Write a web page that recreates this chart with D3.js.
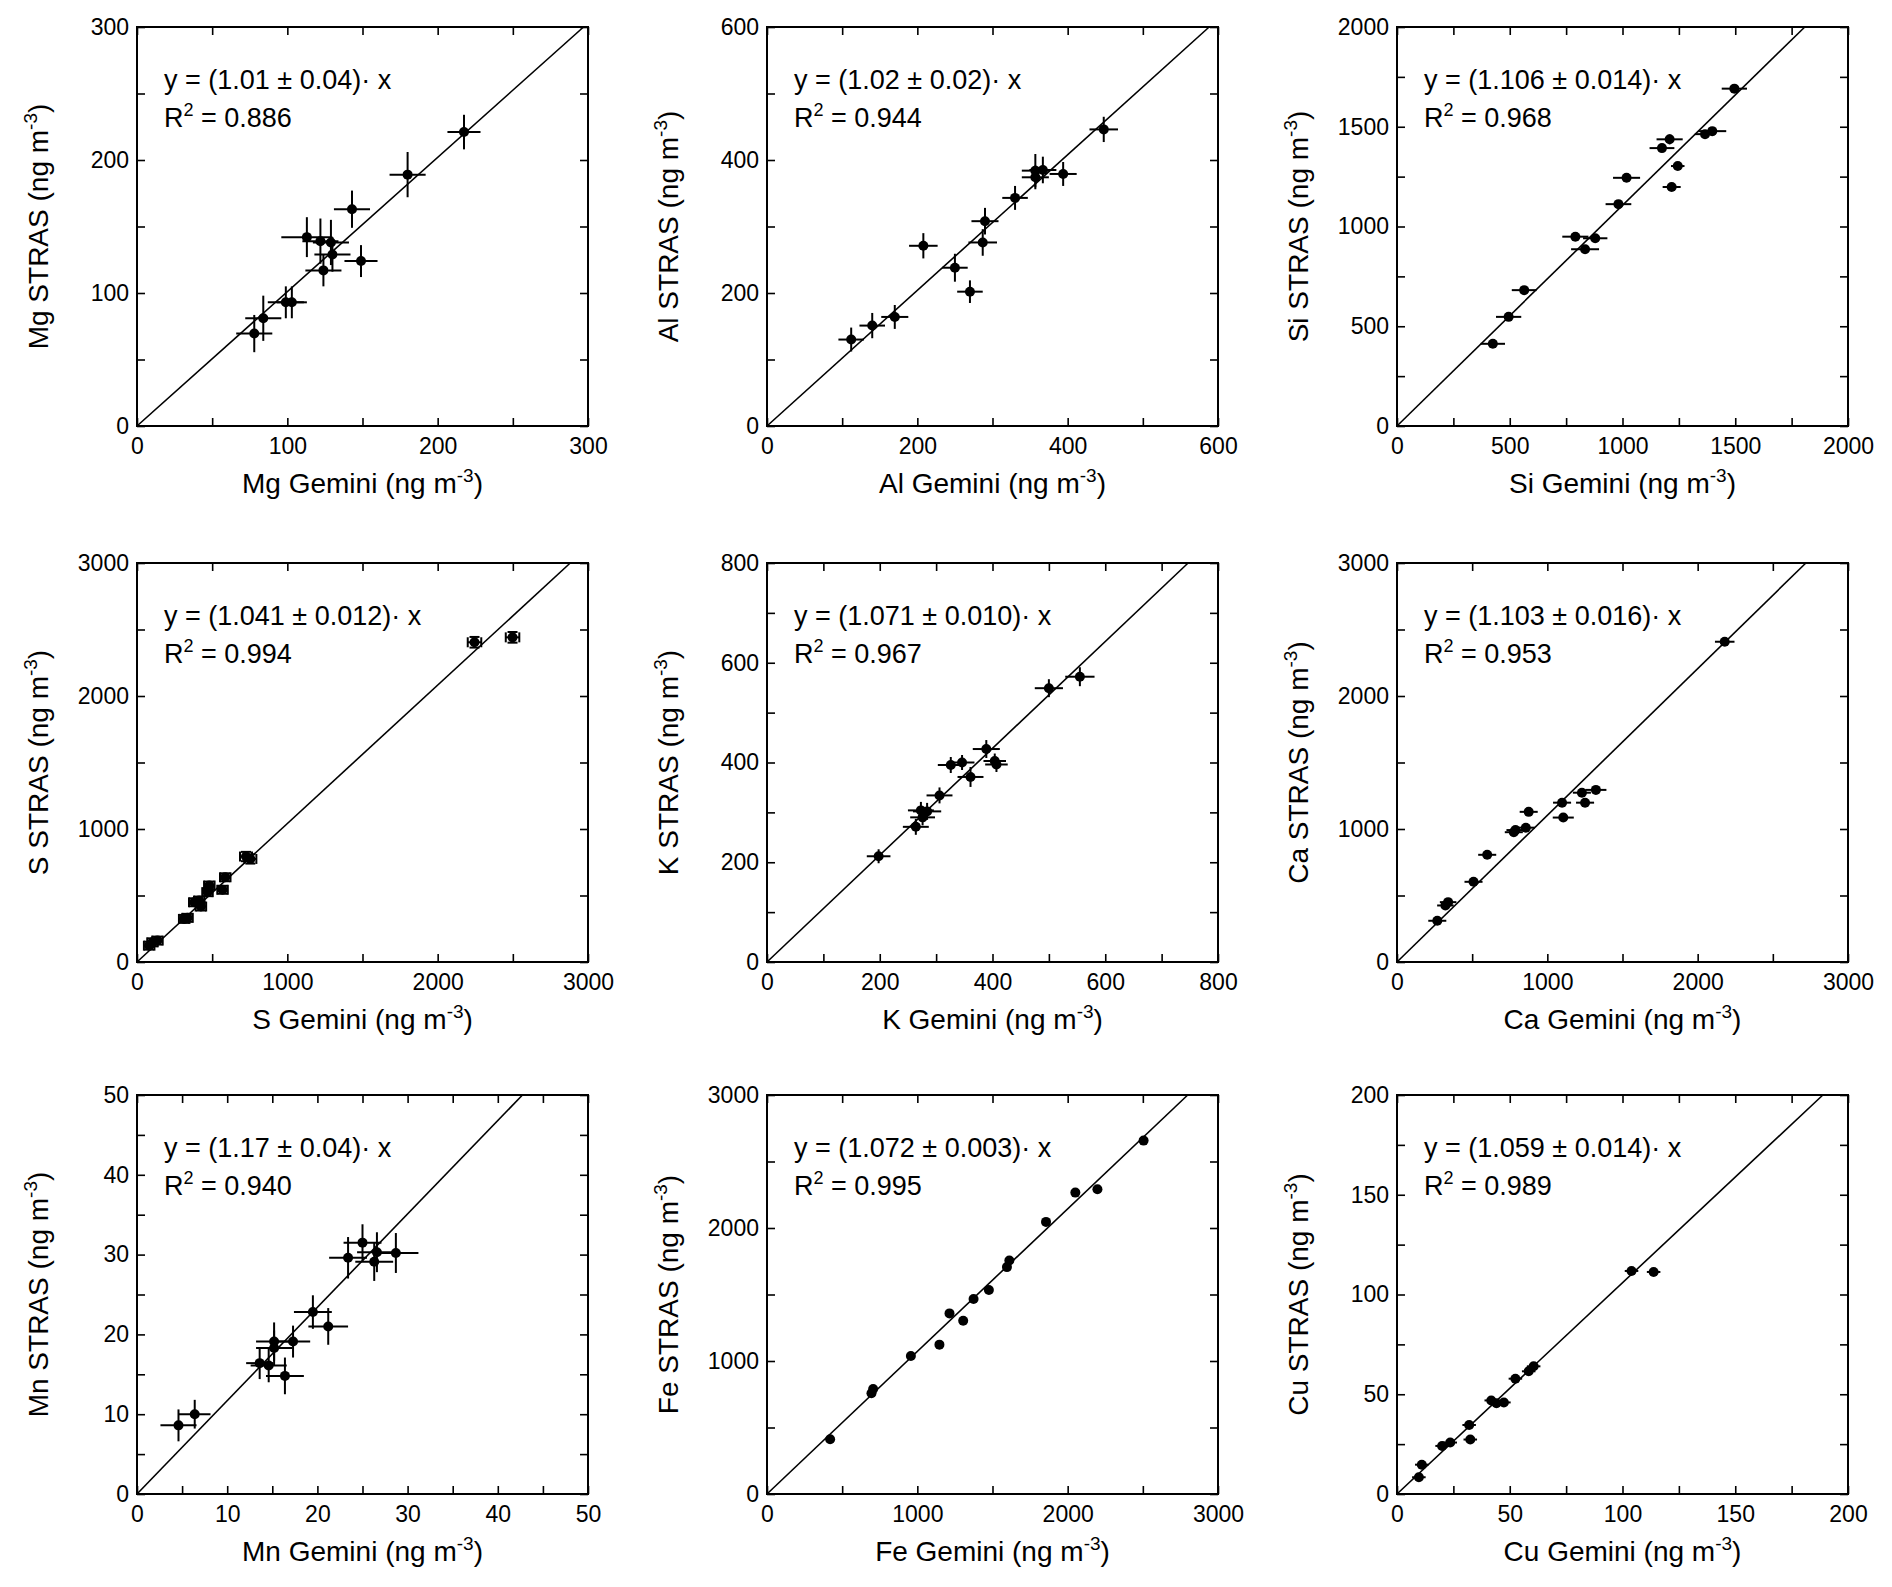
<!DOCTYPE html>
<html>
<head>
<meta charset="utf-8">
<script src="https://cdn.jsdelivr.net/npm/d3@7"></script>
<style>
  body { margin: 0; background: #fff; }
  svg { display: block; }
  text { font-family: "Liberation Sans", Arial, Helvetica, sans-serif; fill: #000; }
</style>
</head>
<body>
<div id="chart"></div>
<script>
/* ========================================================================
 * Gemini vs STRAS element comparison, 3x3 scatter grid
 * ======================================================================== */

// --- values (ng m-3) ---
var mgGemini    = [217.5, 180, 143, 113, 122, 129, 130, 124, 149, 99, 103, 84, 78];
var mgStras     = [221, 189, 163, 142, 139, 138, 129, 117, 124, 93, 93, 81, 69.5];
var mgGeminiErr = [11, 12, 12, 17, 12, 12, 12, 12, 11, 12, 10, 12, 12];
var mgStrasErr  = [13, 17, 14, 15, 17, 17, 13, 12, 12, 12, 12, 17, 14];

var alGemini    = [448, 357, 367, 357, 394, 330, 290, 287, 208, 250, 270, 170, 140, 112];
var alStras     = [446, 384, 385, 374, 379, 343, 308, 276, 271, 238, 202, 164, 151, 130];
var alGeminiErr = [19, 18, 18, 18, 18, 17, 18, 19, 19, 17, 17, 18, 17, 17];
var alStrasErr  = [19, 25, 20, 18, 18, 18, 20, 20, 19, 21, 17, 18, 19, 18];

var siGemini    = [1496, 1398, 1366, 1209, 1175, 1245, 1218, 1018, 982, 791, 879, 834, 564, 495, 425];
var siStras     = [1691, 1478, 1463, 1437, 1393, 1303, 1198, 1244, 1112, 949, 941, 886, 681, 547, 412];
var siGeminiErr = [56, 62, 45, 58, 55, 30, 40, 60, 57, 58, 54, 62, 55, 56, 54];
var siStrasErr  = [20, 20, 20, 25, 20, 20, 18, 20, 18, 18, 18, 18, 18, 18, 18];

var sGemini     = [2245, 2498, 725, 754, 587, 569, 481, 469, 414, 425, 381, 336, 314, 103, 81, 136];
var sStras      = [2404, 2441, 793, 775, 637, 543, 575, 525, 462, 417, 449, 332, 324, 148, 123, 161];
var sGeminiErr  = [45, 45, 40, 40, 35, 35, 35, 35, 35, 35, 35, 35, 35, 35, 35, 35];
var sStrasErr   = [40, 40, 35, 35, 30, 30, 30, 30, 30, 30, 30, 30, 30, 30, 30, 30];

var kGemini     = [555, 500, 389, 404, 407, 346, 326, 361, 306, 273, 284, 276, 264, 198];
var kStras      = [572, 549, 427, 403, 396, 400, 395, 371, 334, 304, 302, 290, 271, 212];
var kGeminiErr  = [26, 25, 24, 20, 20, 22, 23, 23, 23, 23, 25, 22, 23, 21];
var kStrasErr   = [19, 18, 18, 15, 15, 15, 16, 20, 16, 17, 17, 16, 16, 14];

var caGemini    = [2180, 1323, 1230, 1251, 1098, 1106, 876, 857, 788, 777, 600, 509, 340, 322, 268];
var caStras     = [2408, 1294, 1273, 1198, 1198, 1086, 1129, 1010, 992, 976, 806, 603, 450, 425, 310];
var caGeminiErr = [65, 70, 60, 60, 60, 70, 60, 60, 60, 60, 60, 60, 55, 55, 60];
var caStrasErr  = [25, 25, 25, 25, 25, 25, 25, 25, 25, 25, 25, 25, 25, 25, 25];

var mnGemini    = [25.0, 23.4, 26.6, 26.3, 28.7, 19.5, 21.2, 15.2, 15.2, 17.3, 13.6, 14.6, 16.4, 6.4, 4.6];
var mnStras     = [31.5, 29.6, 30.3, 29.1, 30.2, 22.8, 21.0, 19.1, 18.3, 19.1, 16.4, 16.1, 14.8, 10.0, 8.6];
var mnGeminiErr = [2.1, 2.1, 2.2, 2.1, 2.5, 2.1, 2.2, 2.0, 2.0, 1.9, 1.5, 2.0, 2.1, 1.75, 2.0];
var mnStrasErr  = [2.3, 2.6, 2.5, 2.4, 2.5, 2.1, 2.3, 2.4, 2.2, 2.0, 2.0, 2.1, 2.3, 1.8, 2.0];

var feGemini    = [2505, 2198, 2051, 1856, 1612, 1596, 1476, 1374, 1214, 1305, 1147, 957, 706, 695, 420];
var feStras     = [2657, 2291, 2266, 2046, 1756, 1706, 1534, 1466, 1358, 1302, 1123, 1037, 790, 757, 411];
var feGeminiErr = [12, 12, 12, 12, 12, 12, 12, 12, 12, 12, 12, 12, 12, 12, 12];
var feStrasErr  = [12, 12, 12, 12, 12, 12, 12, 12, 12, 12, 12, 12, 12, 12, 12];

var cuGemini    = [104, 113.8, 60.6, 58.4, 52.5, 41.8, 44.1, 47.4, 32, 32.5, 23.6, 20, 11, 9.7];
var cuStras     = [111.8, 111.3, 64, 61.5, 57.8, 46.9, 45.5, 45.9, 34.6, 27.3, 25.8, 24.1, 14.7, 8.4];
var cuGeminiErr = [3, 3, 3, 3, 3, 3, 3, 3, 3, 3, 3, 3, 3, 3];
var cuStrasErr  = [1.5, 1.5, 1.5, 1.5, 1.5, 1.5, 1.5, 1.5, 1.5, 1.5, 1.5, 1.5, 1.5, 1.5];

// element, axis max, major step, minor step, slope, slope text, R2 text
var elements   = ['Mg', 'Al', 'Si', 'S', 'K', 'Ca', 'Mn', 'Fe', 'Cu'];
var axisMax    = [300, 600, 2000, 3000, 800, 3000, 50, 3000, 200];
var majorStep  = [100, 200, 500, 1000, 200, 1000, 10, 1000, 50];
var minorStep  = [50, 100, 250, 500, 100, 500, 5, 500, 25];
var slopes     = [1.01, 1.02, 1.106, 1.041, 1.071, 1.103, 1.17, 1.072, 1.059];
var slopeText  = ['1.01 \u00b1 0.04', '1.02 \u00b1 0.02', '1.106 \u00b1 0.014', '1.041 \u00b1 0.012',
                  '1.071 \u00b1 0.010', '1.103 \u00b1 0.016', '1.17 \u00b1 0.04', '1.072 \u00b1 0.003',
                  '1.059 \u00b1 0.014'];
var r2Text     = ['0.886', '0.944', '0.968', '0.994', '0.967', '0.953', '0.940', '0.995', '0.989'];

var geminiVals = [mgGemini, alGemini, siGemini, sGemini, kGemini, caGemini, mnGemini, feGemini, cuGemini];
var strasVals  = [mgStras, alStras, siStras, sStras, kStras, caStras, mnStras, feStras, cuStras];
var geminiErrs = [mgGeminiErr, alGeminiErr, siGeminiErr, sGeminiErr, kGeminiErr, caGeminiErr, mnGeminiErr, feGeminiErr, cuGeminiErr];
var strasErrs  = [mgStrasErr, alStrasErr, siStrasErr, sStrasErr, kStrasErr, caStrasErr, mnStrasErr, feStrasErr, cuStrasErr];

// --- layout ---
var W = 1892, H = 1587;
var colLeft = [137, 767, 1397];
var rowTop = [27, 563, 1095];
var pw = 451, ph = 399;
var tickLen = 8;

var svg = d3.select('#chart').append('svg')
  .attr('width', W).attr('height', H);
svg.append('rect').attr('width', W).attr('height', H).attr('fill', '#fff');

elements.forEach(function(el, i) {
  var left = colLeft[i % 3], top = rowTop[Math.floor(i / 3)];
  var max = axisMax[i];

  var x = d3.scaleLinear().domain([0, max]).range([0, pw]);
  var y = d3.scaleLinear().domain([0, max]).range([ph, 0]);

  var major = d3.range(0, max + majorStep[i] / 2, majorStep[i]);
  var all = d3.range(0, max + minorStep[i] / 2, minorStep[i]);
  var isMajor = function(v) { return major.some(function(m) { return Math.abs(m - v) < 1e-9; }); };
  var fmt = function(v) { return isMajor(v) ? d3.format('d')(v) : ''; };

  var g = svg.append('g').attr('transform', 'translate(' + left + ',' + top + ')');

  // axes, ticks pointing inward on all four sides
  function style(sel) {
    sel.select('.domain').remove();
    sel.selectAll('.tick line').attr('stroke', '#000').attr('stroke-width', 1.6);
    sel.selectAll('.tick text').attr('font-size', 23).attr('fill', '#000')
      .attr('font-family', '"Liberation Sans", Arial, Helvetica, sans-serif');
  }
  g.append('g').attr('transform', 'translate(0,' + ph + ')')
    .call(d3.axisBottom(x).tickValues(all).tickFormat(fmt).tickSizeInner(-tickLen).tickSizeOuter(0).tickPadding(12))
    .call(style);
  g.append('g')
    .call(d3.axisLeft(y).tickValues(all).tickFormat(fmt).tickSizeInner(-tickLen).tickSizeOuter(0).tickPadding(8))
    .call(style);
  g.append('g')
    .call(d3.axisTop(x).tickValues(all).tickFormat('').tickSizeInner(-tickLen).tickSizeOuter(0))
    .call(style);
  g.append('g').attr('transform', 'translate(' + pw + ',0)')
    .call(d3.axisRight(y).tickValues(all).tickFormat('').tickSizeInner(-tickLen).tickSizeOuter(0))
    .call(style);

  g.append('rect').attr('width', pw).attr('height', ph)
    .attr('fill', 'none').attr('stroke', '#000').attr('stroke-width', 2);

  // fit line y = a*x, cut at the frame
  var xEnd = Math.min(max, max / slopes[i]);
  g.append('path')
    .datum([[0, 0], [xEnd, slopes[i] * xEnd]])
    .attr('d', d3.line().x(function(d) { return x(d[0]); }).y(function(d) { return y(d[1]); }))
    .attr('fill', 'none').attr('stroke', '#000').attr('stroke-width', 1.6);

  var pts = geminiVals[i].map(function(v, j) {
    return { gx: v, sy: strasVals[i][j], ex: geminiErrs[i][j], ey: strasErrs[i][j] };
  });

  var bars = g.append('g').attr('stroke', '#000').attr('stroke-width', 2);
  bars.selectAll('line.h').data(pts).enter().append('line').attr('class', 'h')
    .attr('x1', function(d) { return x(d.gx - d.ex); })
    .attr('x2', function(d) { return x(d.gx + d.ex); })
    .attr('y1', function(d) { return y(d.sy); })
    .attr('y2', function(d) { return y(d.sy); });
  bars.selectAll('line.v').data(pts).enter().append('line').attr('class', 'v')
    .attr('x1', function(d) { return x(d.gx); })
    .attr('x2', function(d) { return x(d.gx); })
    .attr('y1', function(d) { return y(d.sy - d.ey); })
    .attr('y2', function(d) { return y(d.sy + d.ey); });

  // the S panel has capped error bars
  if (el === 'S') {
    var cap = 5;
    [-1, 1].forEach(function(s) {
      bars.selectAll('line.cx' + (s + 1)).data(pts).enter().append('line')
        .attr('x1', function(d) { return x(d.gx + s * d.ex); })
        .attr('x2', function(d) { return x(d.gx + s * d.ex); })
        .attr('y1', function(d) { return y(d.sy) - cap; })
        .attr('y2', function(d) { return y(d.sy) + cap; });
      bars.selectAll('line.cy' + (s + 1)).data(pts).enter().append('line')
        .attr('x1', function(d) { return x(d.gx) - cap; })
        .attr('x2', function(d) { return x(d.gx) + cap; })
        .attr('y1', function(d) { return y(d.sy + s * d.ey); })
        .attr('y2', function(d) { return y(d.sy + s * d.ey); });
    });
  }

  g.append('g').selectAll('circle').data(pts).enter().append('circle')
    .attr('cx', function(d) { return x(d.gx); })
    .attr('cy', function(d) { return y(d.sy); })
    .attr('r', 5).attr('fill', '#000');

  // equation text
  g.append('text').attr('x', 27).attr('y', 62).attr('font-size', 27)
    .text('y = (' + slopeText[i] + ')\u00b7 x');
  var r2 = g.append('text').attr('x', 27).attr('y', 100).attr('font-size', 27);
  r2.append('tspan').text('R');
  r2.append('tspan').attr('font-size', 18).attr('dy', -11).text('2');
  r2.append('tspan').attr('dy', 11).text(' = ' + r2Text[i]);

  // axis titles
  var xt = g.append('text').attr('x', pw / 2).attr('y', ph + 67)
    .attr('text-anchor', 'middle').attr('font-size', 28);
  xt.append('tspan').text(el + ' Gemini (ng m');
  xt.append('tspan').attr('font-size', 19).attr('dy', -11).text('-3');
  xt.append('tspan').attr('dy', 11).text(')');

  var yt = g.append('text')
    .attr('transform', 'translate(' + (-89) + ',' + (ph / 2) + ') rotate(-90)')
    .attr('text-anchor', 'middle').attr('font-size', 28);
  yt.append('tspan').text(el + ' STRAS (ng m');
  yt.append('tspan').attr('font-size', 19).attr('dy', -11).text('-3');
  yt.append('tspan').attr('dy', 11).text(')');
});
</script>
</body>
</html>
